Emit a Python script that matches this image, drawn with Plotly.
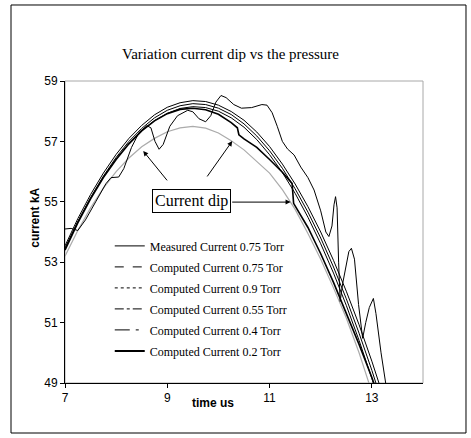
import plotly.graph_objects as go

# ---- data ----
x_comp = [7.0, 7.25, 7.5, 7.75, 8.0, 8.25, 8.5, 8.75, 9.0, 9.25, 9.5, 9.75, 10.0,
          10.25, 10.5, 10.75, 11.0, 11.25, 11.5, 11.75, 12.0, 12.25, 12.5, 12.75, 13.0, 13.25]
comp_04 = [53.54, 54.44, 55.24, 55.95, 56.57, 57.10, 57.53, 57.88, 58.13, 58.28, 58.35, 58.32, 58.20,
           57.99, 57.70, 57.31, 56.83, 56.25, 55.59, 54.84, 54.00, 53.06, 52.04, 50.93, 49.72, 48.42]
comp_075 = [53.44, 54.34, 55.14, 55.85, 56.47, 57.00, 57.43, 57.78, 58.03, 58.18, 58.25, 58.22, 58.10,
            57.89, 57.58, 57.18, 56.69, 56.11, 55.43, 54.66, 53.80, 52.84, 51.79, 50.65, 49.42, 48.09]
comp_055 = [53.47, 54.34, 55.12, 55.82, 56.42, 56.93, 57.36, 57.69, 57.93, 58.09, 58.15, 58.12, 58.00,
            57.78, 57.47, 57.06, 56.56, 55.97, 55.28, 54.49, 53.61, 52.64, 51.57, 50.41, 49.15, 47.80]
x_09 = [7.0, 7.25, 7.5, 7.75, 8.0, 8.25, 8.5, 8.75, 9.0, 9.25, 9.5, 9.75, 10.0,
        10.25, 10.5, 10.75, 11.0, 11.25, 11.5, 11.75, 12.0, 12.25, 12.5, 12.75, 13.0]
comp_09 = [53.20, 54.05, 54.80, 55.45, 56.00, 56.45, 56.82, 57.10, 57.32, 57.45, 57.50, 57.44, 57.28,
           57.02, 56.72, 56.35, 55.95, 55.40, 54.75, 53.95, 53.10, 52.15, 51.15, 50.00, 48.70]
x_02 = [7.0, 7.25, 7.5, 7.75, 8.0, 8.25, 8.5, 8.75, 9.0, 9.25, 9.5, 9.75, 10.0, 10.25, 10.37, 10.40,
        10.5, 10.75, 11.0, 11.25, 11.44, 11.47, 11.75, 12.0, 12.25, 12.5, 12.75, 13.0, 13.25]
comp_02 = [53.40, 54.30, 55.10, 55.80, 56.40, 56.92, 57.35, 57.68, 57.92, 58.06, 58.10, 58.05, 57.90, 57.62, 57.45, 57.22,
           57.08, 56.80, 56.40, 55.98, 55.61, 54.95, 54.15, 53.28, 52.33, 51.33, 50.28, 49.18, 48.00]
x_meas = [7.00, 7.12, 7.25, 7.40, 7.60, 7.80, 7.90, 8.05, 8.15, 8.30, 8.45, 8.60, 8.68, 8.76, 8.84, 8.92,
          9.05, 9.20, 9.40, 9.50, 9.62, 9.75, 9.85, 9.95, 10.05, 10.15, 10.30, 10.45, 10.65, 10.85, 10.95,
          11.05, 11.15, 11.25, 11.35, 11.48, 11.61, 11.75, 11.87, 12.00, 12.10, 12.16, 12.22, 12.26, 12.29,
          12.32, 12.35, 12.38, 12.43, 12.49, 12.55, 12.60, 12.66, 12.74, 12.82, 12.88, 12.95, 13.03, 13.08,
          13.18, 13.27]
meas_075 = [54.10, 54.12, 54.05, 54.40, 55.00, 55.60, 55.80, 55.82, 56.10, 56.80, 57.30, 57.52, 57.45, 57.00, 56.74, 56.90,
            57.50, 57.85, 58.03, 57.98, 57.75, 57.65, 57.85, 58.30, 58.52, 58.45, 58.22, 58.10, 58.12, 58.22, 58.20,
            57.95, 57.50, 57.00, 56.75, 56.55, 56.15, 55.80, 55.39, 54.70, 54.00, 53.85, 54.20, 54.90, 55.17,
            54.80, 53.00, 51.70, 52.30, 52.85, 53.35, 53.46, 53.10, 51.60, 50.48, 51.00, 51.50, 51.80, 51.30,
            50.00, 49.00]

legend_names = ["Measured Current 0.75 Torr", "Computed Current 0.75 Tor", "Computed Current 0.9 Torr",
                "Computed Current 0.55 Torr", "Computed Current 0.4 Torr", "Computed Current 0.2 Torr"]
legend_dash = ["solid", "dash", "dot", "dashdot", "longdashdot", "solid"]
legend_width = [1, 1, 1, 1, 1, 2]

x_ticks = [7, 9, 11, 13]
y_ticks = [49, 51, 53, 55, 57, 59]

fig = go.Figure()
fig.add_trace(go.Scatter(x=x_09, y=comp_09, mode="lines", line=dict(color="#ababab", width=1.2), showlegend=False))
fig.add_trace(go.Scatter(x=x_comp, y=comp_055, mode="lines", line=dict(color="black", width=1), showlegend=False))
fig.add_trace(go.Scatter(x=x_comp, y=comp_075, mode="lines", line=dict(color="black", width=1), showlegend=False))
fig.add_trace(go.Scatter(x=x_comp, y=comp_04, mode="lines", line=dict(color="black", width=1), showlegend=False))
fig.add_trace(go.Scatter(x=x_02, y=comp_02, mode="lines", line=dict(color="black", width=1.6), showlegend=False))
fig.add_trace(go.Scatter(x=x_meas, y=meas_075, mode="lines", line=dict(color="black", width=1), showlegend=False))

for i, (name, dash, w) in enumerate(zip(legend_names, legend_dash, legend_width)):
    fig.add_trace(go.Scatter(x=[None], y=[None], mode="lines", name=name, legendgroup=f"g{i}",
                             line=dict(color="black", width=w, dash=dash)))

serif = "Liberation Serif, Times New Roman, serif"
sans = "Liberation Sans, Arial, sans-serif"

fig.update_layout(
    width=471, height=438,
    margin=dict(l=65, r=48, t=81, b=55),
    paper_bgcolor="white", plot_bgcolor="white",
    showlegend=True,
    legend=dict(x=0.125, y=0.502, xanchor="left", yanchor="top", bgcolor="rgba(0,0,0,0)",
                font=dict(family=serif, size=12, color="black"), itemwidth=30,
                tracegroupgap=2),
    xaxis=dict(range=[7, 14], tickvals=x_ticks, showgrid=False, zeroline=False,
               showline=True, linecolor="black", linewidth=1, ticks="outside", ticklen=4,
               tickcolor="black", tickfont=dict(family=sans, size=12, color="black")),
    yaxis=dict(range=[49, 59], tickvals=y_ticks, showgrid=False, zeroline=False,
               showline=True, linecolor="black", linewidth=1, ticks="outside", ticklen=4,
               tickcolor="black", tickfont=dict(family=sans, size=12, color="black")),
    shapes=[
        dict(type="rect", xref="paper", yref="paper", x0=0, y0=0, x1=1, y1=1,
             line=dict(color="#a8a8a8", width=1), layer="below"),
        dict(type="rect", xref="paper", yref="paper", x0=-0.1508, y0=-0.1656, x1=1.1201, y1=1.2517,
             line=dict(color="black", width=1)),
    ],
    annotations=[
        dict(text="Variation current dip vs the pressure", xref="paper", yref="paper", x=0.461, y=1.1225,
             showarrow=False, font=dict(family=serif, size=15, color="black")),
        dict(text="<b>current kA</b>", xref="paper", yref="paper", x=-0.11, y=0.546, textangle=-90,
             showarrow=False, font=dict(family=sans, size=12, color="black")),
        dict(text="<b>time us</b>", xref="paper", yref="paper", x=0.413, y=-0.096,
             showarrow=False, font=dict(family=sans, size=12, color="black")),
        dict(text="Current dip", x=9.48, y=55.04, xref="x", yref="y", showarrow=False,
             font=dict(family=serif, size=16, color="black"), bordercolor="black", borderwidth=1,
             borderpad=2, bgcolor="white"),
        dict(x=8.53, y=56.68, ax=9.02, ay=55.66, xref="x", yref="y", axref="x", ayref="y",
             showarrow=True, arrowhead=2, arrowsize=1, arrowwidth=1, arrowcolor="black", text=""),
        dict(x=10.27, y=57.01, ax=9.76, ay=55.79, xref="x", yref="y", axref="x", ayref="y",
             showarrow=True, arrowhead=2, arrowsize=1, arrowwidth=1, arrowcolor="black", text=""),
        dict(x=11.41, y=54.99, ax=10.24, ay=54.99, xref="x", yref="y", axref="x", ayref="y",
             showarrow=True, arrowhead=2, arrowsize=1, arrowwidth=1, arrowcolor="black", text=""),
    ],
)

fig.write_html("out.html")
